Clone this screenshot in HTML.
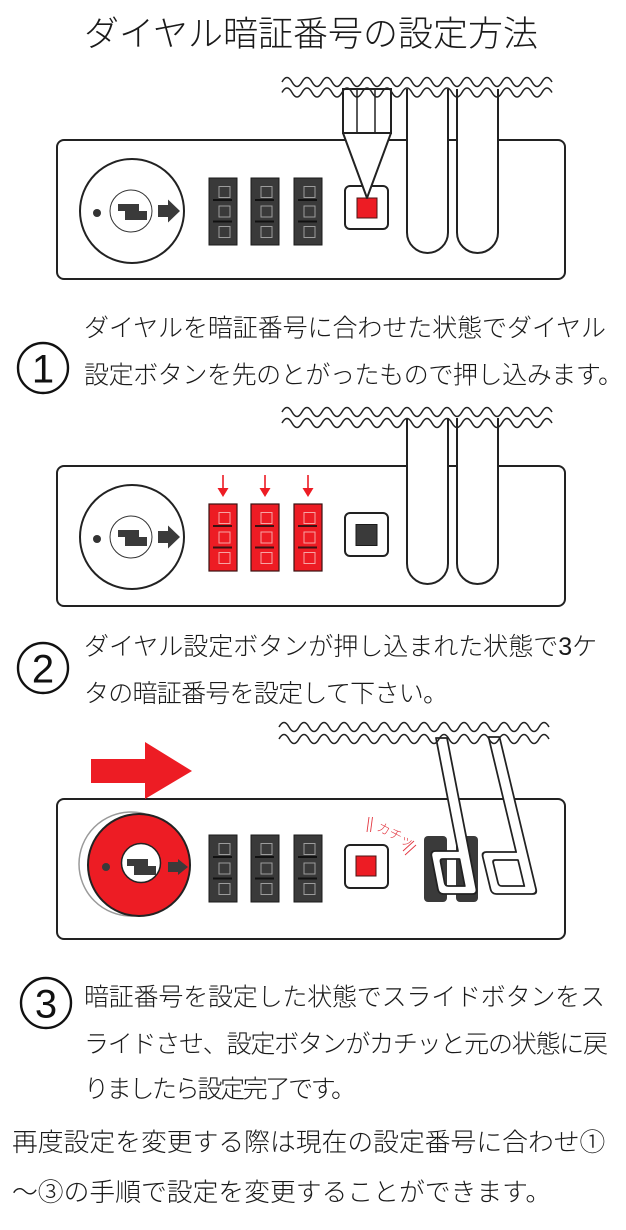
<!DOCTYPE html>
<html>
<head>
<meta charset="utf-8">
<style>
  html,body{margin:0;padding:0;background:#fff;}
  svg{display:block;}
  .jp{font-family:"Liberation Sans","Noto Sans CJK JP",sans-serif;font-weight:300;fill:#1a1a1a;}
  .num{font-family:"Liberation Sans",sans-serif;fill:#111;}
</style>
</head>
<body>
<svg width="626" height="1230" viewBox="0 0 626 1230" xmlns="http://www.w3.org/2000/svg">
<defs>
  <path id="wave" d="M0 0 q5 -9 10 0 t10 0 t10 0 t10 0 t10 0 t10 0 t10 0 t10 0 t10 0 t10 0 t10 0 t10 0 t10 0 t10 0 t10 0 t10 0 t10 0 t10 0 t10 0 t10 0 t10 0 t10 0 t10 0 t10 0 t10 0 t10 0 t10 0" fill="none" stroke="#222" stroke-width="1.5"/>
  <g id="dialD">
    <rect x="0" y="0" width="28" height="67" fill="#3a3a3a" stroke="#1a1a1a" stroke-width="1"/>
    <rect x="10" y="8.5" width="11" height="11" fill="none" stroke="#9c9c9c" stroke-width="1"/>
    <rect x="10" y="28" width="11" height="11" fill="none" stroke="#9c9c9c" stroke-width="1"/>
    <rect x="10" y="48.5" width="11" height="11" fill="none" stroke="#9c9c9c" stroke-width="1"/>
    <line x1="4" y1="22" x2="23" y2="22" stroke="#111" stroke-width="2"/>
    <line x1="4" y1="43.5" x2="23" y2="43.5" stroke="#111" stroke-width="2"/>
  </g>
  <g id="dialR">
    <rect x="0" y="0" width="28" height="67" fill="#ed1c24" stroke="#3a1212" stroke-width="1.2"/>
    <rect x="10" y="8.5" width="11" height="11" fill="none" stroke="#f7a3a3" stroke-width="1"/>
    <rect x="10" y="28" width="11" height="11" fill="none" stroke="#f7a3a3" stroke-width="1"/>
    <rect x="10" y="48.5" width="11" height="11" fill="none" stroke="#f7a3a3" stroke-width="1"/>
    <line x1="4" y1="22" x2="23" y2="22" stroke="#3a1212" stroke-width="2"/>
    <line x1="4" y1="43.5" x2="23" y2="43.5" stroke="#3a1212" stroke-width="2"/>
  </g>
  <polygon id="key" points="-13,-7 8,-7 8,0 16,0 16,9 -6,9 -6,0 -13,0" fill="#3a3a3a"/>
  <polygon id="arr" points="0,-6 10,-6 10,-11.5 22,0 10,11.5 10,6 0,6" fill="#3a3a3a"/>
  <g id="slide">
    <circle r="52" fill="#fff" stroke="#222" stroke-width="2"/>
    <circle cx="-1" cy="0" r="21" fill="#fff" stroke="#333" stroke-width="1"/>
    <circle cx="-35" cy="2" r="4" fill="#333"/>
    <use href="#key" x="-1" y="0"/>
    <use href="#arr" x="26" y="0"/>
  </g>
  <g id="rarr">
    <line x1="0" y1="475" x2="0" y2="489" stroke="#ed1c24" stroke-width="1.6"/>
    <polygon points="-5.5,488 5.5,488 0,497" fill="#ed1c24"/>
  </g>
</defs>

<!-- Title -->
<text class="jp" x="84" y="46" font-size="35">ダイヤル暗証番号の設定方法</text>

<!-- ===== Diagram 1 ===== -->
<rect x="57" y="140" width="508" height="139" rx="7" fill="#fff" stroke="#222" stroke-width="2"/>
<use href="#slide" x="132" y="211"/>
<use href="#dialD" x="209" y="178"/>
<use href="#dialD" x="251" y="178"/>
<use href="#dialD" x="294" y="178"/>
<rect x="345" y="186" width="43" height="43" rx="5" fill="#fff" stroke="#222" stroke-width="2"/>
<rect x="357" y="198" width="20" height="20" fill="#ed1c24" stroke="#4a1414" stroke-width="1"/>
<!-- tool -->
<rect x="343" y="89" width="48" height="44" fill="#fff" stroke="#222" stroke-width="2"/>
<line x1="357" y1="89" x2="357" y2="133" stroke="#222" stroke-width="1.5"/>
<line x1="375" y1="89" x2="375" y2="133" stroke="#222" stroke-width="1.5"/>
<polygon points="343,133 391,133 367,198" fill="#fff" stroke="#222" stroke-width="2" stroke-linejoin="round"/>
<!-- tubes -->
<path d="M407 89 L407 232.5 A20.5 20.5 0 0 0 448 232.5 L448 89" fill="#fff" stroke="#222" stroke-width="2"/>
<path d="M457 89 L457 232.5 A20.5 20.5 0 0 0 498 232.5 L498 89" fill="#fff" stroke="#222" stroke-width="2"/>
<use href="#wave" x="282" y="82"/>
<use href="#wave" x="282" y="92.5"/>

<!-- Step 1 -->
<g transform="translate(43,368)"><circle r="25" fill="none" stroke="#111" stroke-width="2.4"/><text class="num" x="0" y="14.3" text-anchor="middle" font-size="40">1</text></g>
<text class="jp" x="84" y="336.5" font-size="25" textLength="522" lengthAdjust="spacing">ダイヤルを暗証番号に合わせた状態でダイヤル</text>
<text class="jp" x="84" y="383.5" font-size="25" textLength="539" lengthAdjust="spacing">設定ボタンを先のとがったもので押し込みます。</text>

<!-- ===== Diagram 2 ===== -->
<rect x="57" y="466" width="508" height="140" rx="7" fill="#fff" stroke="#222" stroke-width="2"/>
<use href="#slide" x="132" y="537"/>
<use href="#rarr" x="223" y="0"/>
<use href="#rarr" x="265" y="0"/>
<use href="#rarr" x="308" y="0"/>
<use href="#dialR" x="209" y="504"/>
<use href="#dialR" x="251" y="504"/>
<use href="#dialR" x="294" y="504"/>
<rect x="345" y="513" width="43" height="43" rx="5" fill="#fff" stroke="#222" stroke-width="2"/>
<rect x="356" y="524.5" width="21" height="21" fill="#3a3a3a" stroke="#1a1a1a" stroke-width="1"/>
<path d="M407 418 L407 563.5 A20.5 20.5 0 0 0 448 563.5 L448 418" fill="#fff" stroke="#222" stroke-width="2"/>
<path d="M457 418 L457 563.5 A20.5 20.5 0 0 0 498 563.5 L498 418" fill="#fff" stroke="#222" stroke-width="2"/>
<use href="#wave" x="282" y="412"/>
<use href="#wave" x="282" y="423"/>

<!-- Step 2 -->
<g transform="translate(43,668)"><circle r="25" fill="none" stroke="#111" stroke-width="2.4"/><text class="num" x="0" y="14.3" text-anchor="middle" font-size="40">2</text></g>
<text class="jp" x="84" y="655" font-size="25">ダイヤル設定ボタンが押し込まれた状態で3ケ</text>
<text class="jp" x="84" y="702" font-size="25" textLength="364" lengthAdjust="spacing">タの暗証番号を設定して下さい。</text>

<!-- ===== Diagram 3 ===== -->
<rect x="57" y="799" width="508" height="140" rx="7" fill="#fff" stroke="#222" stroke-width="2"/>
<polygon points="91,759 145,759 145,742 192,771 145,799 145,783 91,783" fill="#ed1c24"/>
<circle cx="131" cy="864" r="52" fill="#fff" stroke="#9a9a9a" stroke-width="1.5"/>
<circle cx="139" cy="865" r="51" fill="#ed1c24" stroke="#222" stroke-width="2"/>
<circle cx="141" cy="863" r="19.5" fill="#fff" stroke="#222" stroke-width="1.5"/>
<use href="#key" x="140" y="866"/>
<circle cx="106" cy="867" r="4" fill="#3a3a3a"/>
<polygon points="168,862 178,862 178,859 188,867 178,875 178,872 168,872" fill="#3a3a3a"/>
<use href="#dialD" x="209" y="835"/>
<use href="#dialD" x="251" y="835"/>
<use href="#dialD" x="294" y="835"/>
<rect x="345" y="845" width="43" height="43" rx="5" fill="#fff" stroke="#222" stroke-width="2"/>
<rect x="356" y="856" width="20" height="20" fill="#ed1c24" stroke="#4a1414" stroke-width="1"/>
<!-- click text -->
<line x1="369" y1="817" x2="367" y2="832" stroke="#e2353f" stroke-width="0.9"/>
<line x1="372.5" y1="817" x2="370.5" y2="832" stroke="#e2353f" stroke-width="0.9"/>
<text transform="translate(376,830) rotate(27)" font-family="Liberation Sans, Noto Sans CJK JP, sans-serif" font-weight="300" font-size="13" fill="#e2353f">カチッ</text>
<line x1="403" y1="851" x2="414" y2="841" stroke="#e2353f" stroke-width="0.9"/>
<line x1="405" y1="855" x2="416" y2="845" stroke="#e2353f" stroke-width="0.9"/>
<!-- holes -->
<rect x="424" y="836" width="23" height="66" rx="4" fill="#3a3a3a"/>
<rect x="456" y="836" width="22" height="66" rx="4" fill="#3a3a3a"/>
<!-- tilted shackles -->
<g transform="translate(441.5,738) skewX(11)">
  <path fill-rule="evenodd" d="M-5.5 0 L-5.5 113 L-28 113 Q-33 113 -33 118 L-33 151 Q-33 156 -28 156 L0.5 156 Q5.5 156 5.5 151 L5.5 0 Z M-5.5 121 L-22 121 Q-25 121 -25 124 L-25 145 Q-25 148 -22 148 L-5.5 148 Z" fill="#fff" stroke="#222" stroke-width="1.8" stroke-linejoin="round"/>
</g>
<g transform="translate(494,737) skewX(13.5)">
  <path fill-rule="evenodd" d="M-5.5 0 L-5.5 115 L-35 115 Q-40 115 -40 120 L-40 152 Q-40 157 -35 157 L0.5 157 Q5.5 157 5.5 152 L5.5 0 Z M-5.5 123 L-28 123 Q-31 123 -31 126 L-31 146 Q-31 149 -28 149 L-5.5 149 Z" fill="#fff" stroke="#222" stroke-width="1.8" stroke-linejoin="round"/>
</g>
<use href="#wave" x="279" y="727"/>
<use href="#wave" x="279" y="739"/>

<!-- Step 3 -->
<g transform="translate(46,1003)"><circle r="25" fill="none" stroke="#111" stroke-width="2.4"/><text class="num" x="0" y="14.3" text-anchor="middle" font-size="40">3</text></g>
<text class="jp" x="84" y="1005.5" font-size="25" textLength="521" lengthAdjust="spacing">暗証番号を設定した状態でスライドボタンをス</text>
<text class="jp" x="84" y="1052.5" font-size="25" textLength="524" lengthAdjust="spacing">ライドさせ、設定ボタンがカチッと元の状態に戻</text>
<text class="jp" x="84" y="1097.5" font-size="25" textLength="272" lengthAdjust="spacing">りましたら設定完了です。</text>

<!-- Bottom note -->
<text class="jp" x="12" y="1151" font-size="25.8">再度設定を変更する際は現在の設定番号に合わせ①</text>
<text class="jp" x="12" y="1201" font-size="25.8">～③の手順で設定を変更することができます。</text>
</svg>
</body>
</html>
